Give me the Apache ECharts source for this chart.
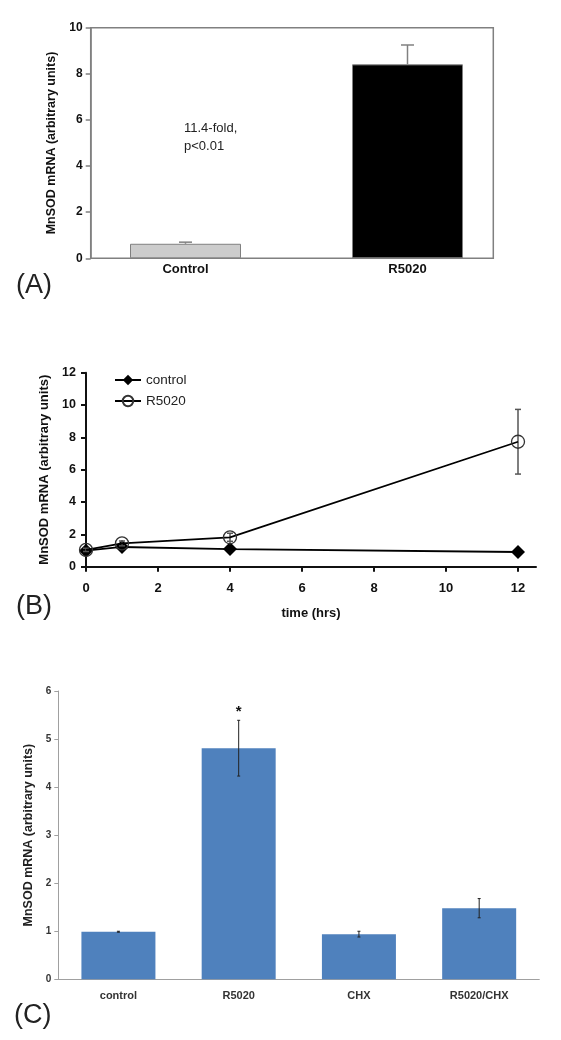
<!DOCTYPE html>
<html><head><meta charset="utf-8">
<script src="https://cdn.jsdelivr.net/npm/echarts@6/dist/echarts.min.js"></script>
<style>html,body{margin:0;padding:0;background:#fff}#c{width:561px;height:1040px}</style>
</head><body><div id="c"></div>
<script>
const FONT = "'Liberation Sans', Arial, sans-serif";

// ---- Panel A ----
const catsA = ['Control', 'R5020'];
const valsA = [0.63, 8.41];
const errA = [0.07, 0.84];
const noteA = '11.4-fold,\np<0.01';

// ---- Panel B ----
const timeB = [0, 1, 4, 12];
const controlB = [0.99, 1.22, 1.09, 0.91];
const r5020B = [1.04, 1.44, 1.82, 7.73];
const r5020ErrB = [0.1, 0.15, 0.25, 2.0];
const timeTicksB = [0, 2, 4, 6, 8, 10, 12];

// ---- Panel C ----
const catsC = ['control', 'R5020', 'CHX', 'R5020/CHX'];
const valsC = [0.99, 4.81, 0.94, 1.48];
const errC = [0.01, 0.58, 0.06, 0.2];
const sigC = ['', '*', '', ''];

const yTitle = 'MnSOD mRNA (arbitrary units)';

function errRenderer(opts) {
  return function (params, api) {
    const x = api.value(0), v = api.value(1), e = api.value(2);
    const top = api.coord([x, v + e]);
    const bot = api.coord([x, opts.upOnly ? v : v - e]);
    const hw = opts.cap / 2;
    const st = { stroke: opts.color, lineWidth: opts.lw };
    const children = [];
    if (e > 0) {
      children.push({ type: 'line', shape: { x1: top[0], y1: top[1], x2: bot[0], y2: bot[1] }, style: st });
      children.push({ type: 'line', shape: { x1: top[0] - hw, y1: top[1], x2: top[0] + hw, y2: top[1] }, style: st });
      if (!opts.upOnly) children.push({ type: 'line', shape: { x1: bot[0] - hw, y1: bot[1], x2: bot[0] + hw, y2: bot[1] }, style: st });
    }
    if (opts.marks && opts.marks[params.dataIndex]) {
      children.push({ type: 'text', x: top[0], y: top[1] - 8,
        style: { text: opts.marks[params.dataIndex], font: 'bold 15px ' + FONT, fill: '#111', textAlign: 'center', textVerticalAlign: 'middle' } });
    }
    return { type: 'group', children: children };
  };
}

const chart = echarts.init(document.getElementById('c'), null, { renderer: 'canvas' });
chart.setOption({
  animation: false,
  backgroundColor: '#fff',
  grid: [
    { left: 90.7, top: 27.7, width: 402.6, height: 230.6, show: true, borderColor: '#808080', borderWidth: 1.5, backgroundColor: 'transparent' },
    { left: 74.5, top: 27.7, width: 444, height: 230.6 },
    { left: 86, top: 372.7, width: 450, height: 194 },
    { left: 58.3, top: 691, width: 481, height: 288.3 }
  ],
  xAxis: [
    { gridIndex: 0, type: 'value', min: 0, max: 1, show: false },
    { gridIndex: 1, type: 'category', data: catsA, axisLine: { show: false }, axisTick: { show: false },
      axisLabel: { margin: 5, fontFamily: FONT, fontWeight: 'bold', fontSize: 13, color: '#111' } },
    { gridIndex: 2, type: 'value', min: 0, max: 12.5,
      axisLine: { lineStyle: { color: '#111', width: 2 } },
      axisTick: { length: 5, lineStyle: { color: '#111', width: 2 }, customValues: timeTicksB },
      axisLabel: { margin: 15, fontFamily: FONT, fontWeight: 'bold', fontSize: 13, color: '#111', customValues: timeTicksB },
      splitLine: { show: false },
      name: 'time (hrs)', nameLocation: 'middle', nameGap: 40,
      nameTextStyle: { fontFamily: FONT, fontWeight: 'bold', fontSize: 13, color: '#111' } },
    { gridIndex: 3, type: 'category', data: catsC,
      axisLine: { lineStyle: { color: '#a0a0a0', width: 1 } },
      axisTick: { length: 4, lineStyle: { color: '#a0a0a0' } },
      axisLabel: { margin: 11, fontFamily: FONT, fontWeight: 'bold', fontSize: 11, color: '#333' } }
  ],
  yAxis: [
    { gridIndex: 0, type: 'value', min: 0, max: 10, interval: 2,
      axisLine: { show: true, lineStyle: { color: '#808080', width: 1.5 } },
      axisTick: { show: true, length: 5, lineStyle: { color: '#808080', width: 1.5 } },
      axisLabel: { margin: 8, fontFamily: FONT, fontWeight: 'bold', fontSize: 12, color: '#111' },
      splitLine: { show: false },
      name: yTitle, nameLocation: 'middle', nameRotate: 90, nameGap: 28,
      nameTextStyle: { fontFamily: FONT, fontWeight: 'bold', fontSize: 12.5, color: '#111' } },
    { gridIndex: 1, type: 'value', min: 0, max: 10, show: false, splitLine: { show: false } },
    { gridIndex: 2, type: 'value', min: 0, max: 12, interval: 2,
      axisLine: { show: true, lineStyle: { color: '#111', width: 2 } },
      axisTick: { show: true, length: 5, lineStyle: { color: '#111', width: 2 } },
      axisLabel: { margin: 10, fontFamily: FONT, fontWeight: 'bold', fontSize: 12.5, color: '#111' },
      splitLine: { show: false },
      name: yTitle, nameLocation: 'middle', nameRotate: 90, nameGap: 34,
      nameTextStyle: { fontFamily: FONT, fontWeight: 'bold', fontSize: 13, color: '#111' } },
    { gridIndex: 3, type: 'value', min: 0, max: 6, interval: 1,
      axisLine: { show: true, lineStyle: { color: '#a0a0a0', width: 1 } },
      axisTick: { show: true, length: 4, lineStyle: { color: '#a0a0a0' } },
      axisLabel: { margin: 7, fontFamily: FONT, fontWeight: 'bold', fontSize: 10, color: '#333' },
      splitLine: { show: false },
      name: yTitle, nameLocation: 'middle', nameRotate: 90, nameGap: 14,
      nameTextStyle: { fontFamily: FONT, fontWeight: 'bold', fontSize: 12.5, color: '#222' } }
  ],
  legend: {
    data: ['control', 'R5020'], orient: 'vertical', left: 114, top: 373,
    itemWidth: 26, itemHeight: 13, itemGap: 7, padding: 0,
    textStyle: { fontFamily: FONT, fontSize: 13.5, color: '#222' }
  },
  graphic: [
    { type: 'text', x: 16, y: 286, style: { text: '(A)', font: '27px ' + FONT, fill: '#222', textVerticalAlign: 'middle' } },
    { type: 'text', x: 16, y: 607, style: { text: '(B)', font: '27px ' + FONT, fill: '#222', textVerticalAlign: 'middle' } },
    { type: 'text', x: 14, y: 1016, style: { text: '(C)', font: '27px ' + FONT, fill: '#222', textVerticalAlign: 'middle' } },
    { type: 'text', x: 184, y: 119, style: { text: noteA, font: '13px ' + FONT, fill: '#222', lineHeight: 18, textVerticalAlign: 'top' } }
  ],
  series: [
    { type: 'bar', xAxisIndex: 1, yAxisIndex: 1, data: valsA, barWidth: 111, z: 2,
      itemStyle: { color: p => (p.dataIndex === 0 ? '#cccccc' : '#000000'), borderColor: '#808080', borderWidth: 1 } },
    { type: 'custom', xAxisIndex: 1, yAxisIndex: 1, z: 5, data: catsA.map((c, i) => [i, valsA[i], errA[i]]),
      renderItem: errRenderer({ color: '#808080', lw: 1.5, cap: 13, upOnly: true }) },
    { name: 'control', type: 'line', xAxisIndex: 2, yAxisIndex: 2,
      data: timeB.map((t, i) => [t, controlB[i]]),
      symbol: 'diamond', symbolSize: 14,
      itemStyle: { color: '#000' }, lineStyle: { color: '#000', width: 1.8 } },
    { type: 'custom', xAxisIndex: 2, yAxisIndex: 2, z: 4, data: timeB.map((t, i) => [t, r5020B[i], r5020ErrB[i]]),
      renderItem: errRenderer({ color: '#555', lw: 1.5, cap: 6 }) },
    { name: 'R5020', type: 'line', xAxisIndex: 2, yAxisIndex: 2, z: 5,
      data: timeB.map((t, i) => [t, r5020B[i]]),
      symbol: 'circle', symbolSize: 13,
      itemStyle: { color: 'rgba(255,255,255,0)', borderColor: '#333', borderWidth: 1.3 },
      lineStyle: { color: '#000', width: 1.8 } },
    { type: 'bar', xAxisIndex: 3, yAxisIndex: 3, data: valsC, barWidth: 74, z: 2,
      itemStyle: { color: '#4F81BD' } },
    { type: 'custom', xAxisIndex: 3, yAxisIndex: 3, z: 5, data: catsC.map((c, i) => [i, valsC[i], errC[i]]),
      renderItem: errRenderer({ color: '#222', lw: 1, cap: 3, marks: sigC }) }
  ]
});
</script></body></html>
